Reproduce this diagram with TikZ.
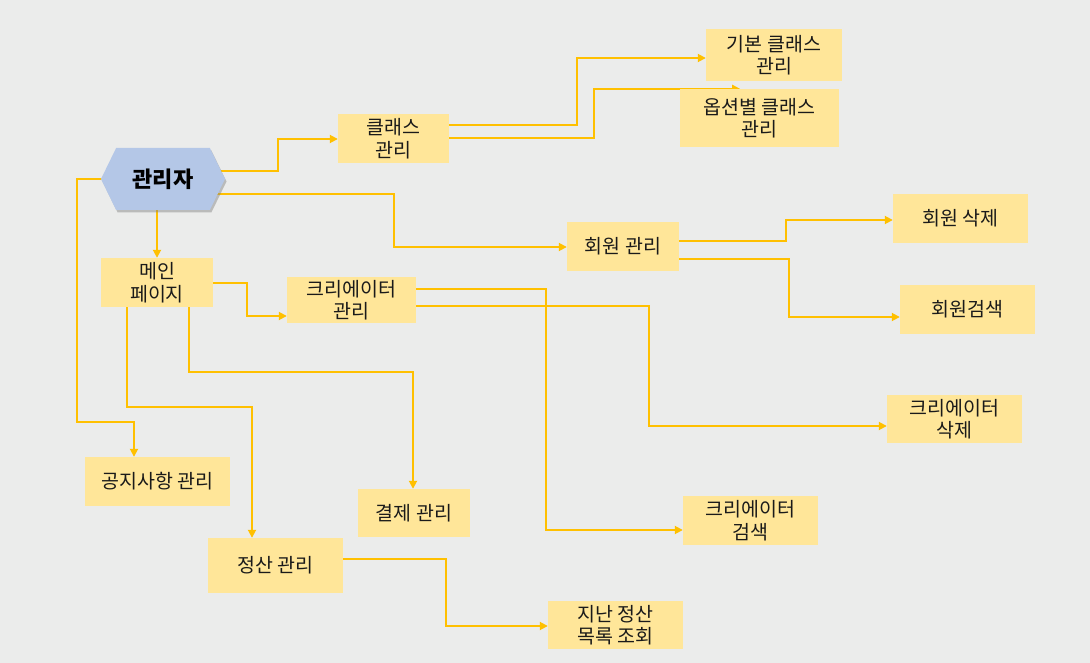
\documentclass[tikz,border=0pt]{standalone}
\usepackage{fontspec}
\setmainfont{Noto Sans CJK KR}
\usetikzlibrary{arrows.meta,shapes.symbols,shadows}
\definecolor{bgcol}{HTML}{EBECEB}
\definecolor{boxcol}{HTML}{FFE699}
\definecolor{linecol}{HTML}{FFC000}
\definecolor{hexcol}{HTML}{B4C7E7}
\definecolor{txtcol}{HTML}{1A1A1A}
\pgfdeclarelayer{back}
\pgfdeclarelayer{links}
\pgfsetlayers{back,links,main}
\tikzset{>={Triangle[length=8pt,width=8pt]}, line/.style={draw=linecol, line width=1.8pt},
box/.style={fill=boxcol, inner sep=2pt, align=center, text=txtcol, font=\fontsize{19.5}{22.5}\selectfont},
admin/.style={signal, signal to=east and west, signal pointer angle=128, fill=hexcol, inner sep=0pt,
  drop shadow={shadow xshift=1.5pt, shadow yshift=-2.5pt, opacity=0.45}, font=\bfseries\fontsize{22}{24}\selectfont}}

\begin{document}
\begin{tikzpicture}[x=1pt, y=-1pt]
\begin{pgfonlayer}{back}
\fill[bgcol] (0,0) rectangle (1090,663);
\end{pgfonlayer}
\useasboundingbox (0,0) rectangle (1090,663);

\node[admin, minimum width=124pt, minimum height=62pt] (admin) at (163,179) {관리자};

\node[box, minimum width=111pt, minimum height=49pt] (cls) at (393.5,138.5) {클래스\\관리};
\node[box, minimum width=136pt, minimum height=52pt] (clsbasic) at (774,55) {기본 클래스\\관리};
\node[box, minimum width=159pt, minimum height=58pt] (clsopt) at (759.5,118) {옵션별 클래스\\관리};

\node[box, minimum width=112pt, minimum height=49pt] (member) at (623,246.5) {회원 관리};
\node[box, minimum width=135pt, minimum height=49pt] (memdel) at (960.5,218.5) {회원 삭제};
\node[box, minimum width=135pt, minimum height=49pt] (memsearch) at (967.5,309.5) {회원검색};

\node[box, minimum width=112pt, minimum height=49pt] (mainpg) at (157,282.5) {메인\\페이지};
\node[box, minimum width=129pt, minimum height=46pt] (creator) at (351.5,300) {크리에이터\\관리};
\node[box, minimum width=135pt, minimum height=48pt] (crdel) at (954.5,419) {크리에이터\\삭제};
\node[box, minimum width=135pt, minimum height=49pt] (crsearch) at (750.5,520.5) {크리에이터\\검색};

\node[box, minimum width=145pt, minimum height=49pt] (notice) at (157.5,481.5) {공지사항 관리};
\node[box, minimum width=112pt, minimum height=48pt] (pay) at (414,513) {결제 관리};
\node[box, minimum width=135pt, minimum height=55pt] (settle) at (275.5,565.5) {정산 관리};
\node[box, minimum width=135pt, minimum height=48pt] (settlelist) at (615.5,625) {지난 정산\\목록 조회};

\begin{pgfonlayer}{links}
% from admin
\draw[->,line] (admin.center |- 0,171) -- (278,171) |- (cls.west |- 0,139);
\draw[->,line] (admin.center |- 0,194) -- (394,194) |- (member.west |- 0,247);
\draw[->,line] (mainpg.north |- admin.center) -- (mainpg.north);
\draw[->,line] (admin.center |- 0,179) -- (77,179) |- (134,422) -- (notice.north -| 134,0);

% class branch
\draw[->,line] (cls.center |- 0,125) -- (577,125) |- (clsbasic.west |- 0,58);
\draw[->,line] (cls.center |- 0,138) -- (594,138) |- (clsopt.north -| 740,0);

% member branch
\draw[->,line] (member.center |- 0,241) -- (786,241) |- (memdel.west |- 0,220);
\draw[->,line] (member.center |- 0,259) -- (789,259) |- (memsearch.west |- 0,317);

% main page branch
\draw[->,line] (mainpg.center |- 0,283) -- (247,283) |- (creator.west |- 0,316);
\draw[->,line] (mainpg.center -| 189,0) -- (189,372) -| (pay.north -| 413,0);
\draw[->,line] (mainpg.center -| 127,0) -- (127,407) -| (settle.north -| 252,0);

% creator branch
\draw[->,line] (creator.center |- 0,289) -- (546,289) |- (crsearch.west |- 0,530);
\draw[->,line] (creator.center |- 0,306) -- (649,306) |- (crdel.west |- 0,426);

% settlement
\draw[->,line] (settle.center |- 0,559) -- (446,559) |- (settlelist.west |- 0,626);
\end{pgfonlayer}
\end{tikzpicture}
\end{document}
